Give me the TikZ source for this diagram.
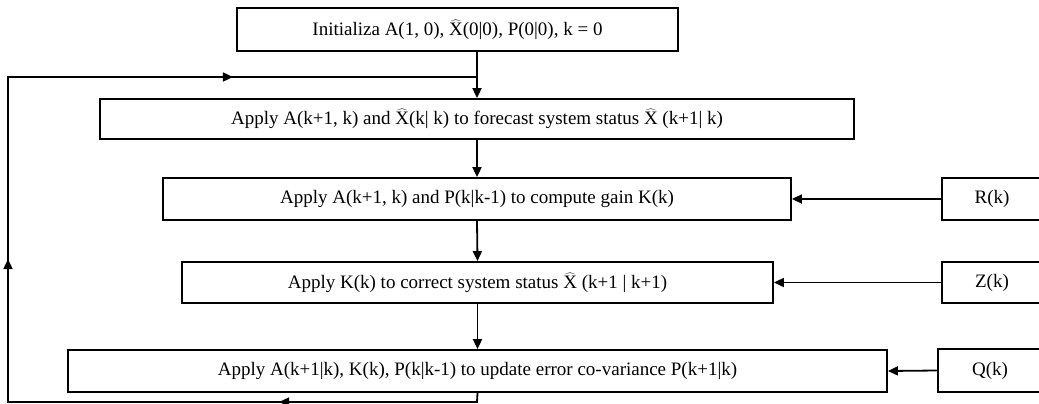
\documentclass[tikz,border=0pt]{standalone}
\usepackage{fontspec}
\setmainfont{Liberation Serif}
\usetikzlibrary{arrows.meta,decorations.markings}
\newcommand{\Xhat}{$\widehat{\mathrm{X}}$}
\tikzset{
  stepbox/.style={draw, line width=1.8pt, inner sep=0pt, font=\fontsize{19}{21}\selectfont},
  flow/.style={line width=1.8pt, -{Triangle[length=10pt,width=9pt]}},
  loopline/.style={line width=1.8pt, postaction={decorate}},
  /pgf/decoration/tipmark/.style={mark=at position #1 with {\arrow{Triangle[length=10pt,width=9pt]}}}
}
\begin{document}
\begin{tikzpicture}[x=1pt,y=-1pt]
\useasboundingbox (0,0) rectangle (1039,404);

% main chain of steps
\node[stepbox, minimum width=441pt, minimum height=43pt] (b1) at (457.5,29.5)
  {Initializa A(1, 0), \Xhat(0|0), P(0|0), k = 0};
\node[stepbox, minimum width=754pt, minimum height=40pt] (b2) at (477,119)
  {Apply A(k+1, k) and \Xhat(k| k) to forecast system status \Xhat\ (k+1| k)};
\node[stepbox, minimum width=628pt, minimum height=42pt] (b3) at (477,199)
  {Apply A(k+1, k) and P(k|k-1) to compute gain K(k)};
\node[stepbox, minimum width=591pt, minimum height=41pt] (b4) at (477.5,282.5)
  {Apply K(k) to correct system status \Xhat\ (k+1 | k+1)};
\node[stepbox, minimum width=819pt, minimum height=42pt] (b5) at (477.5,371)
  {Apply A(k+1|k), K(k), P(k|k-1) to update error co-variance P(k+1|k)};

% external inputs
\node[stepbox, minimum width=100pt, minimum height=42pt] (R) at (992,199) {R(k)};
\node[stepbox, minimum width=100pt, minimum height=41pt] (Z) at (992,282.5) {Z(k)};
\node[stepbox, minimum width=104pt, minimum height=43pt] (Q) at (990,370.5) {Q(k)};

% feedback loop corners
\coordinate (lb) at (477,402);
\coordinate (ll) at (8,402);
\coordinate (lt) at (8,77);
\coordinate (lj) at (477,77);

% downward flow
\draw[flow] (b1.south -| b2.north) -- (b2.north);
\draw[flow] (b2.south) -- (b3.north);
\draw[flow] (b3.south) -- (b4.north);
\draw[flow] (b4.south) -- (b5.north);

% inputs into the steps
\draw[flow] (R.west) -- (b3.east);
\draw[flow] (Z.west) -- (b4.east);
\draw[flow] (Q.west) -- (b5.east);

% loop back to the forecast step
\draw[loopline, decoration={markings, tipmark=207pt, tipmark=621pt, tipmark=1028pt}]
  (b5.south) -- (lb) -- (ll) -- (lt) -- (lj);
\end{tikzpicture}
\end{document}
